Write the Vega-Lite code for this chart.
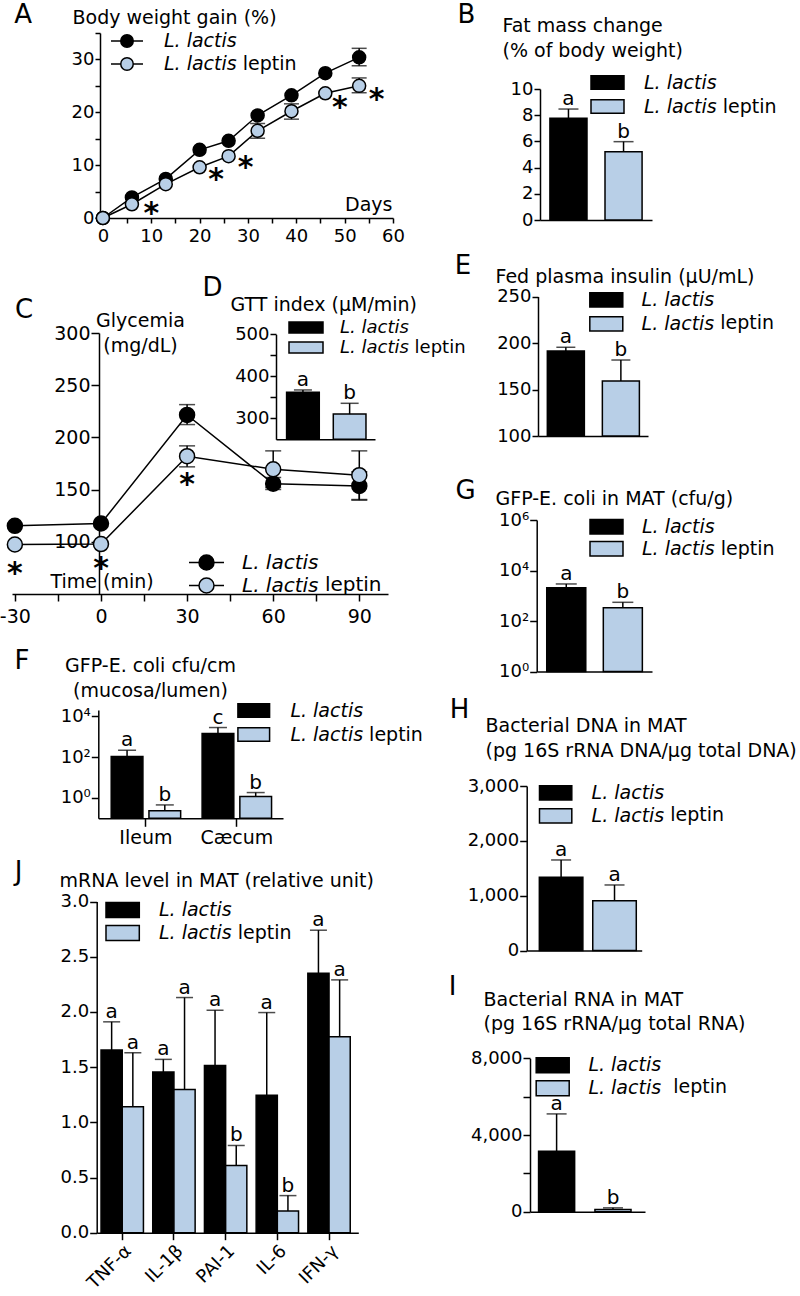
{
  "$schema": "https://vega.github.io/schema/vega-lite/v6.json",
  "width": 800,
  "height": 1296,
  "autosize": {"type": "none"},
  "padding": 0,
  "background": "white",
  "config": {
    "view": {"stroke": null},
    "font": "DejaVu Sans",
    "axis": {"grid": false, "domainColor": "black", "domainWidth": 1.5, "tickColor": "black", "tickWidth": 1.5, "tickSize": 6,
      "labelColor": "black", "labelFont": "DejaVu Sans", "labelFontSize": 18, "labelPadding": 1, "labelFlush": false, "labelOverlap": false, "labelBound": false,
      "titleFont": "DejaVu Sans", "titleFontSize": 19, "titleFontWeight": "normal", "titleColor": "black", "titleAlign": "left", "titleBaseline": "alphabetic", "titleLimit": 1000, "titlePadding": 0},
    "axisX": {"titleAngle": 0},
    "axisY": {"titleAngle": 0},
    "legend": {"padding": 0, "offset": 0, "rowPadding": 0, "labelFont": "DejaVu Sans", "labelFontSize": 19, "labelFontStyle": "italic", "labelColor": "black", "labelLimit": 400, "symbolStrokeColor": "black", "symbolStrokeWidth": 1.5, "symbolOpacity": 1, "direction": "vertical"},
    "text": {"font": "DejaVu Sans", "color": "black"}
  },
  "datasets": {
    "A": [
      {"group": "L. lactis", "day": 0, "value": 0}, {"group": "L. lactis", "day": 6, "value": 3.9}, {"group": "L. lactis", "day": 13, "value": 7.4},
      {"group": "L. lactis", "day": 20, "value": 12.9}, {"group": "L. lactis", "day": 26, "value": 14.6}, {"group": "L. lactis", "day": 32, "value": 19.4},
      {"group": "L. lactis", "day": 39, "value": 23.2}, {"group": "L. lactis", "day": 46, "value": 27.4}, {"group": "L. lactis", "day": 53, "value": 30.4},
      {"group": "L. lactis leptin", "day": 0, "value": 0}, {"group": "L. lactis leptin", "day": 6, "value": 2.6}, {"group": "L. lactis leptin", "day": 13, "value": 6.4},
      {"group": "L. lactis leptin", "day": 20, "value": 9.6}, {"group": "L. lactis leptin", "day": 26, "value": 11.7}, {"group": "L. lactis leptin", "day": 32, "value": 16.5},
      {"group": "L. lactis leptin", "day": 39, "value": 20.2}, {"group": "L. lactis leptin", "day": 46, "value": 23.6}, {"group": "L. lactis leptin", "day": 53, "value": 25.0}
    ],
    "Aerr": [
      {"group": "L. lactis", "day": 53, "lo": 28.8, "hi": 32.1},
      {"group": "L. lactis leptin", "day": 32, "lo": 15.1, "hi": 17.9},
      {"group": "L. lactis leptin", "day": 39, "lo": 18.7, "hi": 21.6},
      {"group": "L. lactis leptin", "day": 53, "lo": 23.7, "hi": 26.5}
    ],
    "Aast": [
      {"day": 10, "value": 1.9}, {"day": 23.4, "value": 8.3}, {"day": 29.5, "value": 10.6}, {"day": 49, "value": 22.0}, {"day": 56.6, "value": 23.4}
    ],
    "C": [
      {"group": "L. lactis", "time": -30, "value": 115.3}, {"group": "L. lactis", "time": 0, "value": 117.5}, {"group": "L. lactis", "time": 30, "value": 221.5},
      {"group": "L. lactis", "time": 60, "value": 155.7}, {"group": "L. lactis", "time": 90, "value": 153.5},
      {"group": "L. lactis leptin", "time": -30, "value": 97.4}, {"group": "L. lactis leptin", "time": 0, "value": 97.8}, {"group": "L. lactis leptin", "time": 30, "value": 182},
      {"group": "L. lactis leptin", "time": 60, "value": 169.5}, {"group": "L. lactis leptin", "time": 90, "value": 163.8}
    ],
    "Cerr": [
      {"group": "L. lactis", "time": 30, "lo": 212.3, "hi": 231.4},
      {"group": "L. lactis", "time": 60, "lo": 150.1, "hi": 161.6},
      {"group": "L. lactis", "time": 90, "lo": 139.9, "hi": 167.1},
      {"group": "L. lactis leptin", "time": 30, "lo": 171.8, "hi": 191.9},
      {"group": "L. lactis leptin", "time": 60, "lo": 152.0, "hi": 187.1},
      {"group": "L. lactis leptin", "time": 90, "lo": 140.5, "hi": 187.1}
    ],
    "Cast": [{"time": -30, "value": 74.5}, {"time": 0, "value": 79.9}, {"time": 30, "value": 160.6}],
    "D": [{"group": "L. lactis", "value": 362, "hi": 367.5, "letter": "a"}, {"group": "L. lactis leptin", "value": 310, "hi": 335.7, "letter": "b"}],
    "B": [{"group": "L. lactis", "value": 7.76, "hi": 8.47, "letter": "a"}, {"group": "L. lactis leptin", "value": 5.21, "hi": 5.98, "letter": "b"}],
    "E": [{"group": "L. lactis", "value": 191.4, "hi": 195.4, "letter": "a"}, {"group": "L. lactis leptin", "value": 159.1, "hi": 181.7, "letter": "b"}],
    "G": [{"group": "L. lactis", "value": 2090, "hi": 2930, "letter": "a"}, {"group": "L. lactis leptin", "value": 337, "hi": 550, "letter": "b"}],
    "H": [{"group": "L. lactis", "value": 1336, "hi": 1651, "letter": "a"}, {"group": "L. lactis leptin", "value": 909, "hi": 1195, "letter": "a"}],
    "I": [{"group": "L. lactis", "value": 3150, "hi": 5100, "letter": "a"}, {"group": "L. lactis leptin", "value": 120, "hi": 200, "letter": "b"}],
    "F": [
      {"tissue": "Ileum", "group": "L. lactis", "value": 107, "hi": 212, "letter": "a"},
      {"tissue": "Ileum", "group": "L. lactis leptin", "value": 0.237, "hi": 0.452, "letter": "b"},
      {"tissue": "Cæcum", "group": "L. lactis", "value": 1410, "hi": 2770, "letter": "c"},
      {"tissue": "Cæcum", "group": "L. lactis leptin", "value": 1.16, "hi": 1.82, "letter": "b"}
    ],
    "J": [
      {"gene": "TNF-α", "group": "L. lactis", "value": 1.655, "hi": 1.91, "letter": "a"},
      {"gene": "TNF-α", "group": "L. lactis leptin", "value": 1.14, "hi": 1.63, "letter": "a"},
      {"gene": "IL-1β", "group": "L. lactis", "value": 1.455, "hi": 1.57, "letter": "a"},
      {"gene": "IL-1β", "group": "L. lactis leptin", "value": 1.297, "hi": 2.13, "letter": "a"},
      {"gene": "PAI-1", "group": "L. lactis", "value": 1.515, "hi": 2.015, "letter": "a"},
      {"gene": "PAI-1", "group": "L. lactis leptin", "value": 0.609, "hi": 0.79, "letter": "b"},
      {"gene": "IL-6", "group": "L. lactis", "value": 1.245, "hi": 1.994, "letter": "a"},
      {"gene": "IL-6", "group": "L. lactis leptin", "value": 0.197, "hi": 0.336, "letter": "b"},
      {"gene": "IFN-γ", "group": "L. lactis", "value": 2.35, "hi": 2.74, "letter": "a"},
      {"gene": "IFN-γ", "group": "L. lactis leptin", "value": 1.776, "hi": 2.29, "letter": "a"}
    ]
  },
  "layer": [
    {
      "layer": [
        {"data": {"name": "A"}, "mark": {"type": "line", "color": "black", "strokeWidth": 1.5},
          "encoding": {
            "x": {"field": "day", "type": "quantitative", "scale": {"domain": [-0.6, 60], "range": [100, 393], "nice": false, "zero": false},
              "axis": {"orient": "bottom", "offset": -1078, "values": [0,5,10,15,20,25,30,35,40,45,50,55,60], "labelExpr": "datum.value % 10 == 0 ? format(datum.value, 'd') : ''", "tickSize": 5, "labelPadding": 4,
                "title": "Days", "titleX": 392, "titleY": -8, "titleAlign": "right"}},
            "y": {"field": "value", "type": "quantitative", "scale": {"domain": [0, 35], "range": [218, 33], "nice": false, "zero": false},
              "axis": {"orient": "left", "offset": -100, "values": [0,5,10,15,20,25,30,35], "labelExpr": "datum.value % 10 == 0 ? format(datum.value, 'd') : ''", "tickSize": 5,
                "title": "Body weight gain (%)", "titleX": -28, "titleY": 23}},
            "detail": {"field": "group"},
            "opacity": {"field": "group", "type": "nominal", "scale": {"domain": ["L. lactis", "L. lactis leptin", "-"], "range": [1, 1]},
              "legend": {"title": null, "orient": "none", "values": ["L. lactis", "L. lactis leptin"], "legendX": 114.5, "legendY": 28.5, "symbolType": "M0,0", "symbolSize": 529, "labelOffset": 103.2, "labelFontStyle": "normal",
                "labelExpr": "datum.label == 'L. lactis leptin' ? 'leptin' : '\u00a0'"}}
          }},
        {"data": {"name": "Aerr"}, "mark": {"type": "rule", "color": "black", "strokeWidth": 1.5},
          "encoding": {"x": {"field": "day", "type": "quantitative"}, "y": {"field": "lo", "type": "quantitative"}, "y2": {"field": "hi"}}},
        {"data": {"name": "Aerr"}, "mark": {"type": "tick", "orient": "horizontal", "size": 15, "thickness": 1.5, "color": "black"},
          "encoding": {"x": {"field": "day", "type": "quantitative"}, "y": {"field": "lo", "type": "quantitative"}}},
        {"data": {"name": "Aerr"}, "mark": {"type": "tick", "orient": "horizontal", "size": 15, "thickness": 1.5, "color": "black"},
          "encoding": {"x": {"field": "day", "type": "quantitative"}, "y": {"field": "hi", "type": "quantitative"}}},
        {"data": {"name": "A"}, "mark": {"type": "point", "filled": true, "size": 169, "stroke": "black", "strokeWidth": 1.5, "opacity": 1},
          "encoding": {
            "x": {"field": "day", "type": "quantitative"},
            "y": {"field": "value", "type": "quantitative"},
            "fill": {"field": "group", "type": "nominal", "scale": {"domain": ["L. lactis", "L. lactis leptin"], "range": ["#000000", "#b8cfe7"]},
              "legend": {"title": null, "orient": "none", "legendX": 114.5, "legendY": 28.5, "symbolType": "M-1.391,0H-0.543M0.543,0H1.391M-0.543,0A0.543,0.543,0,1,1,0.543,0A0.543,0.543,0,1,1,-0.543,0Z", "symbolSize": 529, "labelOffset": 24.5, "labelExpr": "'L. lactis'"}}
          }},
        {"data": {"name": "Aast"}, "mark": {"type": "text", "text": "*", "fontSize": 30, "fontWeight": "bold", "baseline": "middle", "dy": 6},
          "encoding": {"x": {"field": "day", "type": "quantitative"}, "y": {"field": "value", "type": "quantitative"}}},
        {"data": {"values": [{"t": "A"}]}, "mark": {"type": "text", "fontSize": 26, "align": "center", "baseline": "alphabetic"},
          "encoding": {"x": {"datum": -16.5, "type": "quantitative"}, "y": {"datum": 36.9, "type": "quantitative"}, "text": {"field": "t"}}}
      ]
    },
    {
      "data": {"name": "B"},
      "layer": [
        {"mark": {"type": "bar", "stroke": "black", "strokeWidth": 1.5},
          "encoding": {
            "x": {"field": "group", "type": "nominal", "scale": {"type": "band", "domain": ["L. lactis", "L. lactis leptin"], "range": [540, 652], "paddingInner": 0.327, "paddingOuter": 0.18, "align": 0.5},
              "axis": {"orient": "bottom", "offset": -1076, "labels": false, "ticks": false, "title": "B", "titleX": 466, "titleY": -198, "titleAlign": "center", "titleFontSize": 26}},
            "y": {"field": "value", "type": "quantitative", "scale": {"domain": [0, 10], "range": [220, 89], "nice": false, "zero": false},
              "axis": {"orient": "left", "offset": -540, "values": [0,2,4,6,8,10], "labelExpr": "format(datum.value, 'd')", "title": ["Fat mass change", "(% of body weight)"], "titleX": -38, "titleY": 31.7, "titleLineHeight": 24.5}},
            "y2": {"datum": 0},
            "fill": {"field": "group", "type": "nominal", "scale": {"domain": ["L. lactis", "L. lactis leptin"], "range": ["#000000", "#b8cfe7"]},
              "legend": {"title": null, "orient": "none", "legendX": 594, "legendY": 69, "symbolType": "M-1.32,-0.54H1.32V0.54H-1.32Z", "symbolSize": 625, "labelOffset": 23, "labelExpr": "'L. lactis'"}}
          }},
        {"mark": {"type": "rule", "color": "black", "strokeWidth": 1.5},
          "encoding": {"x": {"field": "group", "type": "nominal"}, "y": {"field": "value", "type": "quantitative"}, "y2": {"field": "hi"}}},
        {"mark": {"type": "tick", "orient": "horizontal", "size": 20, "thickness": 1.5, "color": "black"},
          "encoding": {"x": {"field": "group", "type": "nominal"}, "y": {"field": "hi", "type": "quantitative"}}},
        {"mark": {"type": "text", "fontSize": 20, "baseline": "alphabetic", "dy": -4},
          "encoding": {"x": {"field": "group", "type": "nominal"}, "y": {"field": "hi", "type": "quantitative"}, "text": {"field": "letter"},
            "opacity": {"field": "group", "type": "nominal", "scale": {"domain": ["L. lactis", "L. lactis leptin", "-"], "range": [1, 1]},
              "legend": {"title": null, "orient": "none", "values": ["L. lactis", "L. lactis leptin"], "legendX": 594, "legendY": 69, "symbolType": "M0,0", "symbolSize": 625, "labelOffset": 101.7, "labelFontStyle": "normal",
                "labelExpr": "datum.label == 'L. lactis leptin' ? 'leptin' : '\u00a0'"}}}}
      ]
    },
    {
      "layer": [
        {"data": {"name": "C"}, "mark": {"type": "line", "color": "black", "strokeWidth": 1.5},
          "encoding": {
            "x": {"field": "time", "type": "quantitative", "scale": {"domain": [-31, 100], "range": [12, 388], "nice": false, "zero": false},
              "axis": {"orient": "bottom", "offset": -702, "values": [-30,-15,0,15,30,45,60,75,90], "labelExpr": "datum.value % 30 == 0 ? (datum.value < 0 ? '-' + abs(datum.value) : '' + datum.value) : ''",
                "labelFontSize": 19, "tickSize": 7, "labelPadding": 6, "title": "Time (min)", "titleX": 50, "titleY": -7, "titleAlign": "left"}},
            "y": {"field": "value", "type": "quantitative", "scale": {"domain": [50, 300], "range": [594, 333], "nice": false, "zero": false},
              "axis": {"orient": "left", "offset": -99, "values": [100,150,200,250,300], "labelExpr": "format(datum.value, 'd')", "labelFontSize": 19, "tickSize": 8,
                "title": ["Glycemia", "(mg/dL)"], "titleX": 41, "titleY": 326, "titleAlign": "center", "titleLineHeight": 25}},
            "detail": {"field": "group"},
            "opacity": {"field": "group", "type": "nominal", "scale": {"domain": ["L. lactis", "L. lactis leptin", "-"], "range": [1, 1]},
              "legend": {"title": null, "orient": "none", "values": ["L. lactis", "L. lactis leptin"], "legendX": 194.5, "legendY": 550.5, "symbolType": "M0,0", "symbolSize": 484, "labelOffset": 106.4, "labelFontSize": 20, "labelFontStyle": "normal",
                "labelExpr": "datum.label == 'L. lactis leptin' ? 'leptin' : '\u00a0'"}}
          }},
        {"data": {"name": "Cerr"}, "mark": {"type": "rule", "color": "black", "strokeWidth": 1.5},
          "encoding": {"x": {"field": "time", "type": "quantitative"}, "y": {"field": "lo", "type": "quantitative"}, "y2": {"field": "hi"}}},
        {"data": {"name": "Cerr"}, "mark": {"type": "tick", "orient": "horizontal", "size": 16, "thickness": 1.5, "color": "black"},
          "encoding": {"x": {"field": "time", "type": "quantitative"}, "y": {"field": "lo", "type": "quantitative"}}},
        {"data": {"name": "Cerr"}, "mark": {"type": "tick", "orient": "horizontal", "size": 16, "thickness": 1.5, "color": "black"},
          "encoding": {"x": {"field": "time", "type": "quantitative"}, "y": {"field": "hi", "type": "quantitative"}}},
        {"data": {"name": "C"}, "mark": {"type": "point", "filled": true, "size": 225, "stroke": "black", "strokeWidth": 1.5, "opacity": 1},
          "encoding": {
            "x": {"field": "time", "type": "quantitative"},
            "y": {"field": "value", "type": "quantitative"},
            "fill": {"field": "group", "type": "nominal", "scale": {"domain": ["L. lactis", "L. lactis leptin"], "range": ["#000000", "#b8cfe7"]},
              "legend": {"title": null, "orient": "none", "legendX": 194.5, "legendY": 550.5, "symbolType": "M-1.591,0H-0.682M0.682,0H1.591M-0.682,0A0.682,0.682,0,1,1,0.682,0A0.682,0.682,0,1,1,-0.682,0Z", "symbolSize": 484, "labelOffset": 23.5, "labelFontSize": 20, "labelExpr": "'L. lactis'"}}
          }},
        {"data": {"name": "Cast"}, "mark": {"type": "text", "text": "*", "fontSize": 30, "fontWeight": "bold", "baseline": "middle", "dy": 6},
          "encoding": {"x": {"field": "time", "type": "quantitative"}, "y": {"field": "value", "type": "quantitative"}}},
        {"data": {"values": [{"t": "C"}]}, "mark": {"type": "text", "fontSize": 26, "align": "center", "baseline": "alphabetic"},
          "encoding": {"x": {"datum": -26.8, "type": "quantitative"}, "y": {"datum": 314.4, "type": "quantitative"}, "text": {"field": "t"}}}
      ]
    },
    {
      "data": {"name": "D"},
      "layer": [
        {"mark": {"type": "bar", "stroke": "black", "strokeWidth": 1.5},
          "encoding": {
            "x": {"field": "group", "type": "nominal", "scale": {"type": "band", "domain": ["L. lactis", "L. lactis leptin"], "range": [276, 375], "paddingInner": 0.3, "paddingOuter": 0.21, "align": 0.54},
              "axis": {"orient": "bottom", "offset": -856.7, "labels": false, "ticks": false, "title": "D", "titleX": 212, "titleY": -144.3, "titleAlign": "center", "titleFontSize": 26}},
            "y": {"field": "value", "type": "quantitative", "scale": {"domain": [250, 500], "range": [439.3, 334.3], "nice": false, "zero": false},
              "axis": {"orient": "left", "offset": -276, "values": [300,350,400,450,500], "labelExpr": "datum.value % 100 == 0 ? format(datum.value, 'd') : ''", "tickSize": 6,
                "title": "GTT index (µM/min)", "titleX": -46, "titleY": 310}},
            "y2": {"datum": 250},
            "fill": {"field": "group", "type": "nominal", "scale": {"domain": ["L. lactis", "L. lactis leptin"], "range": ["#000000", "#b8cfe7"]},
              "legend": {"title": null, "orient": "none", "legendX": 295, "legendY": 316.5, "symbolType": "M-1.7,-0.55H1.7V0.55H-1.7Z", "symbolSize": 400, "labelOffset": 23, "labelFontSize": 18, "labelExpr": "'L. lactis'"}}
          }},
        {"mark": {"type": "rule", "color": "black", "strokeWidth": 1.5},
          "encoding": {"x": {"field": "group", "type": "nominal"}, "y": {"field": "value", "type": "quantitative"}, "y2": {"field": "hi"}}},
        {"mark": {"type": "tick", "orient": "horizontal", "size": 18, "thickness": 1.5, "color": "black"},
          "encoding": {"x": {"field": "group", "type": "nominal"}, "y": {"field": "hi", "type": "quantitative"}}},
        {"mark": {"type": "text", "fontSize": 20, "baseline": "alphabetic", "dy": -4},
          "encoding": {"x": {"field": "group", "type": "nominal"}, "y": {"field": "hi", "type": "quantitative"}, "text": {"field": "letter"},
            "opacity": {"field": "group", "type": "nominal", "scale": {"domain": ["L. lactis", "L. lactis leptin", "-"], "range": [1, 1]},
              "legend": {"title": null, "orient": "none", "values": ["L. lactis", "L. lactis leptin"], "legendX": 295, "legendY": 316.5, "symbolType": "M0,0", "symbolSize": 400, "labelOffset": 97.6, "labelFontSize": 18, "labelFontStyle": "normal",
                "labelExpr": "datum.label == 'L. lactis leptin' ? 'leptin' : '\u00a0'"}}}}
      ]
    },
    {
      "data": {"name": "E"},
      "layer": [
        {"mark": {"type": "bar", "stroke": "black", "strokeWidth": 1.5},
          "encoding": {
            "x": {"field": "group", "type": "nominal", "scale": {"type": "band", "domain": ["L. lactis", "L. lactis leptin"], "range": [538, 648], "paddingInner": 0.327, "paddingOuter": 0.163, "align": 0.52},
              "axis": {"orient": "bottom", "offset": -860, "labels": false, "ticks": false, "title": "E", "titleX": 462.5, "titleY": -163, "titleAlign": "center", "titleFontSize": 26}},
            "y": {"field": "value", "type": "quantitative", "scale": {"domain": [100, 250], "range": [436, 296.5], "nice": false, "zero": false},
              "axis": {"orient": "left", "offset": -538, "values": [100,150,200,250], "labelExpr": "format(datum.value, 'd')", "title": "Fed plasma insulin (µU/mL)", "titleX": -43, "titleY": 282.7}},
            "y2": {"datum": 100},
            "fill": {"field": "group", "type": "nominal", "scale": {"domain": ["L. lactis", "L. lactis leptin"], "range": ["#000000", "#b8cfe7"]},
              "legend": {"title": null, "orient": "none", "legendX": 593.3, "legendY": 286.8, "symbolType": "M-1.352,-0.586H1.352V0.586H-1.352Z", "symbolSize": 595, "labelOffset": 22.3, "labelExpr": "'L. lactis'"}}
          }},
        {"mark": {"type": "rule", "color": "black", "strokeWidth": 1.5},
          "encoding": {"x": {"field": "group", "type": "nominal"}, "y": {"field": "value", "type": "quantitative"}, "y2": {"field": "hi"}}},
        {"mark": {"type": "tick", "orient": "horizontal", "size": 19, "thickness": 1.5, "color": "black"},
          "encoding": {"x": {"field": "group", "type": "nominal"}, "y": {"field": "hi", "type": "quantitative"}}},
        {"mark": {"type": "text", "fontSize": 20, "baseline": "alphabetic", "dy": -4},
          "encoding": {"x": {"field": "group", "type": "nominal"}, "y": {"field": "hi", "type": "quantitative"}, "text": {"field": "letter"},
            "opacity": {"field": "group", "type": "nominal", "scale": {"domain": ["L. lactis", "L. lactis leptin", "-"], "range": [1, 1]},
              "legend": {"title": null, "orient": "none", "values": ["L. lactis", "L. lactis leptin"], "legendX": 593.3, "legendY": 286.8, "symbolType": "M0,0", "symbolSize": 595, "labelOffset": 101, "labelFontStyle": "normal",
                "labelExpr": "datum.label == 'L. lactis leptin' ? 'leptin' : '\u00a0'"}}}}
      ]
    },
    {
      "data": {"name": "F"},
      "layer": [
        {"mark": {"type": "bar", "stroke": "black", "strokeWidth": 1.5},
          "encoding": {
            "x": {"field": "tissue", "type": "nominal", "sort": ["Ileum", "Cæcum"], "scale": {"type": "band", "domain": ["Ileum", "Cæcum"], "range": [98.3, 283], "paddingInner": 0.236, "paddingOuter": 0.134, "align": 0.53},
              "axis": {"orient": "bottom", "offset": -477.7, "labelFontSize": 19, "labelAngle": 0, "tickSize": 8, "labelPadding": 2, "title": "F", "titleX": 21.5, "titleY": -150.3, "titleAlign": "center", "titleFontSize": 26}},
            "xOffset": {"field": "group", "type": "nominal", "scale": {"domain": ["L. lactis", "L. lactis leptin"], "paddingInner": 0.16, "paddingOuter": 0}},
            "y": {"field": "value", "type": "quantitative", "scale": {"type": "log", "domain": [0.1, 20000], "range": [818.3, 710], "nice": false, "zero": false},
              "axis": {"orient": "left", "offset": -98.3, "values": [1, 100, 10000], "labelExpr": "datum.value == 1 ? '10⁰' : datum.value == 100 ? '10²' : '10⁴'", "tickSize": 7,
                "title": ["GFP-E. coli cfu/cm", "(mucosa/lumen)"], "titleX": 51.7, "titleY": 671.7, "titleAlign": "center", "titleLineHeight": 25}},
            "y2": {"datum": 0.1},
            "fill": {"field": "group", "type": "nominal", "scale": {"domain": ["L. lactis", "L. lactis leptin"], "range": ["#000000", "#b8cfe7"]},
              "legend": {"title": null, "orient": "none", "legendX": 239.75, "legendY": 696.5, "symbolType": "M-1.238,-0.52H1.238V0.52H-1.238Z", "symbolSize": 655, "labelOffset": 22.65, "labelExpr": "'L. lactis'"}}
          }},
        {"mark": {"type": "rule", "color": "black", "strokeWidth": 1.5},
          "encoding": {"x": {"field": "tissue", "type": "nominal"}, "xOffset": {"field": "group", "type": "nominal"}, "y": {"field": "value", "type": "quantitative"}, "y2": {"field": "hi"}}},
        {"mark": {"type": "tick", "orient": "horizontal", "size": 18, "thickness": 1.5, "color": "black"},
          "encoding": {"x": {"field": "tissue", "type": "nominal"}, "xOffset": {"field": "group", "type": "nominal"}, "y": {"field": "hi", "type": "quantitative"}}},
        {"mark": {"type": "text", "fontSize": 20, "baseline": "alphabetic", "dy": -4},
          "encoding": {"x": {"field": "tissue", "type": "nominal"}, "xOffset": {"field": "group", "type": "nominal"}, "y": {"field": "hi", "type": "quantitative"}, "text": {"field": "letter"},
            "opacity": {"field": "group", "type": "nominal", "scale": {"domain": ["L. lactis", "L. lactis leptin", "-"], "range": [1, 1]},
              "legend": {"title": null, "orient": "none", "values": ["L. lactis", "L. lactis leptin"], "legendX": 239.75, "legendY": 696.5, "symbolType": "M0,0", "symbolSize": 655, "labelOffset": 101.35, "labelFontStyle": "normal",
                "labelExpr": "datum.label == 'L. lactis leptin' ? 'leptin' : '\u00a0'"}}}}
      ]
    },
    {
      "data": {"name": "G"},
      "layer": [
        {"mark": {"type": "bar", "stroke": "black", "strokeWidth": 1.5},
          "encoding": {
            "x": {"field": "group", "type": "nominal", "scale": {"type": "band", "domain": ["L. lactis", "L. lactis leptin"], "range": [536.7, 652], "paddingInner": 0.31, "paddingOuter": 0.174, "align": 0.51},
              "axis": {"orient": "bottom", "offset": -624.5, "labels": false, "ticks": false, "title": "G", "titleX": 465, "titleY": -173.5, "titleAlign": "center", "titleFontSize": 26}},
            "y": {"field": "value", "type": "quantitative", "scale": {"type": "log", "domain": [1, 1000000], "range": [671.5, 520], "nice": false, "zero": false},
              "axis": {"orient": "left", "offset": -536.7, "values": [1, 100, 10000, 1000000], "labelExpr": "datum.value == 1 ? '10⁰' : datum.value == 100 ? '10²' : datum.value == 10000 ? '10⁴' : '10⁶'", "tickSize": 7,
                "title": "GFP-E. coli in MAT (cfu/g)", "titleX": -41.7, "titleY": 504}},
            "y2": {"datum": 1},
            "fill": {"field": "group", "type": "nominal", "scale": {"domain": ["L. lactis", "L. lactis leptin"], "range": ["#000000", "#b8cfe7"]},
              "legend": {"title": null, "orient": "none", "legendX": 595, "legendY": 515.3, "symbolType": "M-1.571,-0.69H1.571V0.69H-1.571Z", "symbolSize": 441, "labelOffset": 24, "labelExpr": "'L. lactis'"}}
          }},
        {"mark": {"type": "rule", "color": "black", "strokeWidth": 1.5},
          "encoding": {"x": {"field": "group", "type": "nominal"}, "y": {"field": "value", "type": "quantitative"}, "y2": {"field": "hi"}}},
        {"mark": {"type": "tick", "orient": "horizontal", "size": 21, "thickness": 1.5, "color": "black"},
          "encoding": {"x": {"field": "group", "type": "nominal"}, "y": {"field": "hi", "type": "quantitative"}}},
        {"mark": {"type": "text", "fontSize": 20, "baseline": "alphabetic", "dy": -4},
          "encoding": {"x": {"field": "group", "type": "nominal"}, "y": {"field": "hi", "type": "quantitative"}, "text": {"field": "letter"},
            "opacity": {"field": "group", "type": "nominal", "scale": {"domain": ["L. lactis", "L. lactis leptin", "-"], "range": [1, 1]},
              "legend": {"title": null, "orient": "none", "values": ["L. lactis", "L. lactis leptin"], "legendX": 595, "legendY": 515.3, "symbolType": "M0,0", "symbolSize": 441, "labelOffset": 102.7, "labelFontStyle": "normal",
                "labelExpr": "datum.label == 'L. lactis leptin' ? 'leptin' : '\u00a0'"}}}}
      ]
    },
    {
      "data": {"name": "H"},
      "layer": [
        {"mark": {"type": "bar", "stroke": "black", "strokeWidth": 1.5},
          "encoding": {
            "x": {"field": "group", "type": "nominal", "scale": {"type": "band", "domain": ["L. lactis", "L. lactis leptin"], "range": [526.7, 641.7], "paddingInner": 0.185, "paddingOuter": 0.169, "align": 0.7},
              "axis": {"orient": "bottom", "offset": -345.5, "labels": false, "ticks": false, "title": "H", "titleX": 459, "titleY": -233.5, "titleAlign": "center", "titleFontSize": 26}},
            "y": {"field": "value", "type": "quantitative", "scale": {"domain": [0, 3000], "range": [950.5, 786], "nice": false, "zero": false},
              "axis": {"orient": "left", "offset": -526.7, "values": [0, 1000, 2000, 3000], "labelExpr": "format(datum.value, ',')", "tickSize": 7,
                "title": ["Bacterial DNA in MAT", "(pg 16S rRNA DNA/µg total DNA)"], "titleX": -41.7, "titleY": 731.7, "titleLineHeight": 25}},
            "y2": {"datum": 0},
            "fill": {"field": "group", "type": "nominal", "scale": {"domain": ["L. lactis", "L. lactis leptin"], "range": ["#000000", "#b8cfe7"]},
              "legend": {"title": null, "orient": "none", "legendX": 543.65, "legendY": 780.8, "symbolType": "M-1.442,-0.638H1.442V0.638H-1.442Z", "symbolSize": 502, "labelOffset": 23.95, "labelExpr": "'L. lactis'"}}
          }},
        {"mark": {"type": "rule", "color": "black", "strokeWidth": 1.5},
          "encoding": {"x": {"field": "group", "type": "nominal"}, "y": {"field": "value", "type": "quantitative"}, "y2": {"field": "hi"}}},
        {"mark": {"type": "tick", "orient": "horizontal", "size": 20, "thickness": 1.5, "color": "black"},
          "encoding": {"x": {"field": "group", "type": "nominal"}, "y": {"field": "hi", "type": "quantitative"}}},
        {"mark": {"type": "text", "fontSize": 20, "baseline": "alphabetic", "dy": -4},
          "encoding": {"x": {"field": "group", "type": "nominal"}, "y": {"field": "hi", "type": "quantitative"}, "text": {"field": "letter"},
            "opacity": {"field": "group", "type": "nominal", "scale": {"domain": ["L. lactis", "L. lactis leptin", "-"], "range": [1, 1]},
              "legend": {"title": null, "orient": "none", "values": ["L. lactis", "L. lactis leptin"], "legendX": 543.65, "legendY": 780.8, "symbolType": "M0,0", "symbolSize": 502, "labelOffset": 102.65, "labelFontStyle": "normal",
                "labelExpr": "datum.label == 'L. lactis leptin' ? 'leptin' : '\u00a0'"}}}}
      ]
    },
    {
      "data": {"name": "I"},
      "layer": [
        {"mark": {"type": "bar", "stroke": "black", "strokeWidth": 1.5},
          "encoding": {
            "x": {"field": "group", "type": "nominal", "scale": {"type": "band", "domain": ["L. lactis", "L. lactis leptin"], "range": [530, 645], "paddingInner": 0.36, "paddingOuter": 0.2, "align": 0.38},
              "axis": {"orient": "bottom", "offset": -84.3, "labels": false, "ticks": false, "title": "I", "titleX": 452, "titleY": -216.7, "titleAlign": "center", "titleFontSize": 26}},
            "y": {"field": "value", "type": "quantitative", "scale": {"domain": [0, 8000], "range": [1211.7, 1058.3], "nice": false, "zero": false},
              "axis": {"orient": "left", "offset": -530, "values": [0, 2000, 4000, 6000, 8000], "labelExpr": "datum.value % 4000 == 0 ? format(datum.value, ',') : ''", "tickSize": 7,
                "title": ["Bacterial RNA in MAT", "(pg 16S rRNA/µg total RNA)"], "titleX": -47, "titleY": 1005, "titleLineHeight": 24.3}},
            "y2": {"datum": 0},
            "fill": {"field": "group", "type": "nominal", "scale": {"domain": ["L. lactis", "L. lactis leptin"], "range": ["#000000", "#b8cfe7"]},
              "legend": {"title": null, "orient": "none", "legendX": 540.7, "legendY": 1053.2, "symbolType": "M-1.528,-0.694H1.528V0.694H-1.528Z", "symbolSize": 467, "labelOffset": 23.7, "labelExpr": "'L. lactis'"}}
          }},
        {"mark": {"type": "rule", "color": "black", "strokeWidth": 1.5},
          "encoding": {"x": {"field": "group", "type": "nominal"}, "y": {"field": "value", "type": "quantitative"}, "y2": {"field": "hi"}}},
        {"mark": {"type": "tick", "orient": "horizontal", "size": 20, "thickness": 1.5, "color": "black"},
          "encoding": {"x": {"field": "group", "type": "nominal"}, "y": {"field": "hi", "type": "quantitative"}}},
        {"mark": {"type": "text", "fontSize": 20, "baseline": "alphabetic", "dy": -4},
          "encoding": {"x": {"field": "group", "type": "nominal"}, "y": {"field": "hi", "type": "quantitative"}, "text": {"field": "letter"},
            "opacity": {"field": "group", "type": "nominal", "scale": {"domain": ["L. lactis", "L. lactis leptin", "-"], "range": [1, 1]},
              "legend": {"title": null, "orient": "none", "values": ["L. lactis", "L. lactis leptin"], "legendX": 540.7, "legendY": 1053.2, "symbolType": "M0,0", "symbolSize": 467, "labelOffset": 108.5, "labelFontStyle": "normal",
                "labelExpr": "datum.label == 'L. lactis leptin' ? 'leptin' : '\u00a0'"}}}}
      ]
    },
    {
      "data": {"name": "J"},
      "layer": [
        {"mark": {"type": "bar", "stroke": "black", "strokeWidth": 1.5},
          "encoding": {
            "x": {"field": "gene", "type": "nominal", "sort": ["TNF-α", "IL-1β", "PAI-1", "IL-6", "IFN-γ"], "scale": {"type": "band", "domain": ["TNF-α", "IL-1β", "PAI-1", "IL-6", "IFN-γ"], "range": [96.7, 358.3], "paddingInner": 0.18, "paddingOuter": 0.12, "align": 0.35},
              "axis": {"orient": "bottom", "offset": -63.3, "labelAngle": -45, "labelAlign": "right", "labelBaseline": "top", "labelFontSize": 18, "tickSize": 7, "labelPadding": 2,
                "title": "J", "titleX": 18, "titleY": -352.7, "titleAlign": "center", "titleFontSize": 26}},
            "xOffset": {"field": "group", "type": "nominal", "scale": {"domain": ["L. lactis", "L. lactis leptin"], "paddingInner": 0, "paddingOuter": 0}},
            "y": {"field": "value", "type": "quantitative", "scale": {"domain": [0, 3], "range": [1232.7, 901.5], "nice": false, "zero": false},
              "axis": {"orient": "left", "offset": -96.7, "values": [0, 0.5, 1, 1.5, 2, 2.5, 3], "labelExpr": "format(datum.value, '.1f')", "tickSize": 7,
                "title": "mRNA level in MAT (relative unit)", "titleX": -37.7, "titleY": 886}},
            "y2": {"datum": 0},
            "fill": {"field": "group", "type": "nominal", "scale": {"domain": ["L. lactis", "L. lactis leptin"], "range": ["#000000", "#b8cfe7"]},
              "legend": {"title": null, "orient": "none", "legendX": 110.15, "legendY": 897.5, "symbolType": "M-1.448,-0.652H1.448V0.652H-1.448Z", "symbolSize": 529, "labelOffset": 23.85, "labelExpr": "'L. lactis'"}}
          }},
        {"mark": {"type": "rule", "color": "black", "strokeWidth": 1.5},
          "encoding": {"x": {"field": "gene", "type": "nominal"}, "xOffset": {"field": "group", "type": "nominal"}, "y": {"field": "value", "type": "quantitative"}, "y2": {"field": "hi"}}},
        {"mark": {"type": "tick", "orient": "horizontal", "size": 17, "thickness": 1.5, "color": "black"},
          "encoding": {"x": {"field": "gene", "type": "nominal"}, "xOffset": {"field": "group", "type": "nominal"}, "y": {"field": "hi", "type": "quantitative"}}},
        {"mark": {"type": "text", "fontSize": 20, "baseline": "alphabetic", "dy": -4},
          "encoding": {"x": {"field": "gene", "type": "nominal"}, "xOffset": {"field": "group", "type": "nominal"}, "y": {"field": "hi", "type": "quantitative"}, "text": {"field": "letter"},
            "opacity": {"field": "group", "type": "nominal", "scale": {"domain": ["L. lactis", "L. lactis leptin", "-"], "range": [1, 1]},
              "legend": {"title": null, "orient": "none", "values": ["L. lactis", "L. lactis leptin"], "legendX": 110.15, "legendY": 897.5, "symbolType": "M0,0", "symbolSize": 529, "labelOffset": 102.55, "labelFontStyle": "normal",
                "labelExpr": "datum.label == 'L. lactis leptin' ? 'leptin' : '\u00a0'"}}}}
      ]
    }
  ],
  "resolve": {
    "scale": {"x": "independent", "y": "independent", "fill": "independent", "xOffset": "independent", "opacity": "independent"},
    "axis": {"x": "independent", "y": "independent"},
    "legend": {"fill": "independent", "opacity": "independent"}
  }
}
